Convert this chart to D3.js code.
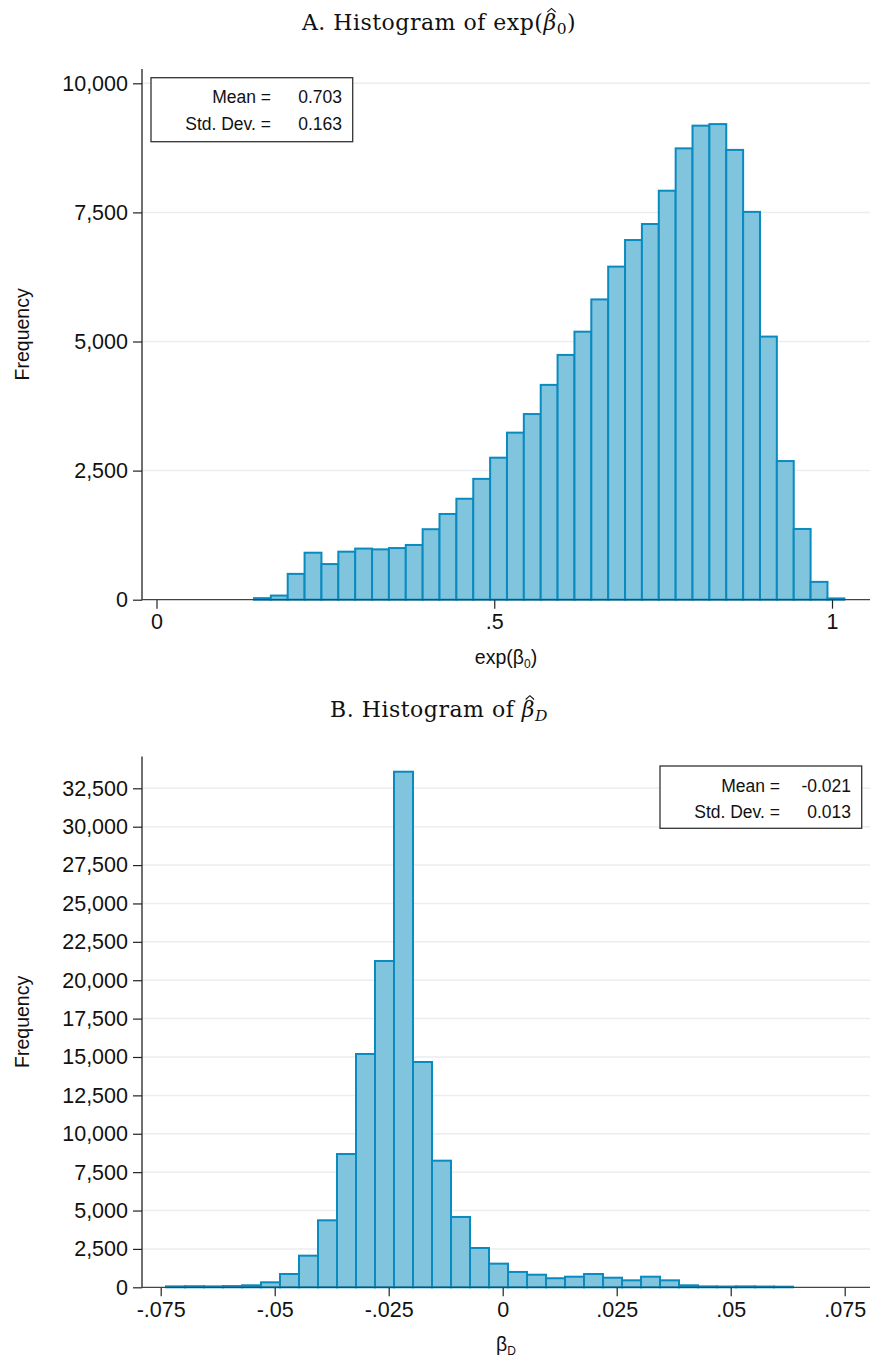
<!DOCTYPE html>
<html>
<head>
<meta charset="utf-8">
<script src="https://cdn.jsdelivr.net/npm/d3@7"></script>
<style>
  html, body { margin: 0; padding: 0; background: #ffffff; }
  svg { display: block; }
</style>
</head>
<body>
<svg id="chart" width="870" height="1361"></svg>
<script>
// ---- Panel A: histogram of exp(beta_0) ----
const binStartA = 0.1443;
const binWidthA = 0.02497;
const freqA = [30, 80, 500, 910, 690, 930, 990, 975, 1000, 1060,
               1365, 1660, 1955, 2340, 2750, 3235, 3595, 4160, 4740, 5190,
               5815, 6450, 6965, 7275, 7920, 8740, 9180, 9210, 8710, 7510,
               5095, 2685, 1370, 345, 25];
const xTicksA = [0, 0.5, 1];
const yTicksA = [0, 2500, 5000, 7500, 10000];
const statLabelsA = ["Mean =", "Std. Dev. ="];
const statValuesA = ["0.703", "0.163"];

// ---- Panel B: histogram of beta_D ----
const binStartB = -0.07384;
const binWidthB = 0.004167;
const freqB = [60, 70, 60, 80, 130, 325, 866, 2060, 4363, 8680,
               15196, 21252, 33580, 14674, 8247, 4580, 2560, 1540, 1000, 820,
               590, 690, 865, 625, 455, 690, 455, 130, 60, 50,
               60, 50, 40];
const xTicksB = [-0.075, -0.05, -0.025, 0, 0.025, 0.05, 0.075];
const yTicksB = [0, 2500, 5000, 7500, 10000, 12500, 15000, 17500, 20000,
                 22500, 25000, 27500, 30000, 32500];
const statLabelsB = ["Mean =", "Std. Dev. ="];
const statValuesB = ["-0.021", "0.013"];

const SANS = "'Liberation Sans', Arial, Helvetica, sans-serif";
const SERIF = "'DejaVu Serif', 'Liberation Serif', serif";
const FILL = "#80c4de";
const EDGE = "#0a8bbf";
const GRID = "#e8eef2";
const AXIS = "#222222";

const svg = d3.select("#chart");

// Stata-style decimal labels: ".5", "-.025", "0"
function stataNum(v) {
  if (v === 0) return "0";
  let s = String(+v.toFixed(4));
  return s.replace(/^(-?)0\./, "$1.");
}

function drawPanel(p) {
  const g = svg.append("g");
  const plotLeft = 142, plotRight = 870;

  // horizontal gridlines
  g.append("g").selectAll("line")
    .data(p.yTicks.filter(d => d > 0))
    .join("line")
    .attr("x1", plotLeft).attr("x2", plotRight)
    .attr("y1", d => p.y(d)).attr("y2", d => p.y(d))
    .attr("stroke", GRID).attr("stroke-width", 1.5);

  // histogram bars
  const bins = p.freq.map((f, i) => ({
    x0: p.binStart + i * p.binWidth,
    x1: p.binStart + (i + 1) * p.binWidth,
    f: f
  }));
  g.append("g").selectAll("rect")
    .data(bins)
    .join("rect")
    .attr("x", d => p.x(d.x0))
    .attr("width", d => p.x(d.x1) - p.x(d.x0))
    .attr("y", d => p.y(d.f))
    .attr("height", d => p.y(0) - p.y(d.f))
    .attr("fill", FILL)
    .attr("stroke", EDGE)
    .attr("stroke-width", 2);

  // y axis
  const ya = g.append("g")
    .attr("transform", `translate(${plotLeft},0)`)
    .call(d3.axisLeft(p.y).tickValues(p.yTicks).tickSize(9).tickPadding(5)
      .tickFormat(d3.format(",")));
  ya.select(".domain").remove();
  ya.selectAll(".tick line").attr("stroke", AXIS).attr("stroke-width", 1.2);
  ya.selectAll(".tick text").attr("font-family", SANS).attr("font-size", 21.5)
    .attr("fill", "#111");
  g.append("line")
    .attr("x1", plotLeft).attr("x2", plotLeft)
    .attr("y1", p.plotTop).attr("y2", p.y(0) + 0.5)
    .attr("stroke", AXIS).attr("stroke-width", 1.3);

  // x axis
  const xa = g.append("g")
    .attr("transform", `translate(0,${p.y(0)})`)
    .call(d3.axisBottom(p.x).tickValues(p.xTicks).tickSize(9).tickPadding(5)
      .tickFormat(stataNum));
  xa.select(".domain").remove();
  xa.selectAll(".tick line").attr("stroke", AXIS).attr("stroke-width", 1.2);
  xa.selectAll(".tick text").attr("font-family", SANS).attr("font-size", 21.5)
    .attr("fill", "#111");
  g.append("line")
    .attr("x1", plotLeft).attr("x2", plotRight)
    .attr("y1", p.y(0)).attr("y2", p.y(0))
    .attr("stroke", "#444").attr("stroke-width", 1.3);

  // y axis title
  g.append("text")
    .attr("transform", `translate(28.5,${(p.plotTop + p.y(0)) / 2}) rotate(-90)`)
    .attr("text-anchor", "middle")
    .attr("font-family", SANS).attr("font-size", 19.5).attr("fill", "#111")
    .text("Frequency");

  // x axis title with subscript
  const xt = g.append("text")
    .attr("x", (plotLeft + plotRight) / 2)
    .attr("y", p.y(0) + 64)
    .attr("text-anchor", "middle")
    .attr("font-family", SANS).attr("font-size", 19.5).attr("fill", "#111");
  xt.append("tspan").text(p.xTitle[0]);
  xt.append("tspan").attr("font-size", 12).attr("dy", 4).text(p.xTitle[1]);
  if (p.xTitle[2]) xt.append("tspan").attr("dy", -4).text(p.xTitle[2]);

  // panel title: text, hatted italic beta, subscript, closing part
  const tt = g.append("text")
    .attr("x", 439).attr("y", p.titleY)
    .attr("text-anchor", "middle")
    .attr("font-family", SERIF).attr("font-size", 22).attr("letter-spacing", 0.5)
    .attr("fill", "#111");
  tt.append("tspan").text(p.title[0]);
  const beta = tt.append("tspan").attr("font-style", "italic").text("\u03B2");
  tt.append("tspan").attr("font-size", 15.5).attr("dy", 4)
    .attr("font-style", p.title[2] ? "italic" : "normal").text(p.title[1]);
  if (p.title[3]) tt.append("tspan").attr("dy", -4).text(p.title[3]);

  // hat accent over the beta
  const bb = beta.node().getBBox();
  const hx = bb.x + bb.width * 0.64;
  const hy = p.titleY - 21;
  g.append("path")
    .attr("d", `M${hx - 4.2},${hy + 3.2} L${hx},${hy - 0.6} L${hx + 4.2},${hy + 3.2}`)
    .attr("fill", "none").attr("stroke", "#111").attr("stroke-width", 1.1)
    .attr("stroke-linejoin", "miter");

  // summary statistics box
  const lg = g.append("g").attr("transform", `translate(${p.legend[0]},${p.legend[1]})`);
  lg.append("rect")
    .attr("x", 0).attr("y", 0).attr("width", 201.7).attr("height", p.legend[2])
    .attr("fill", "#fff").attr("stroke", "#333").attr("stroke-width", 1.3);
  p.statLabels.forEach((lab, i) => {
    lg.append("text").attr("x", 120).attr("y", 25.5 + i * 26.7)
      .attr("text-anchor", "end").attr("font-family", SANS).attr("font-size", 17.5)
      .attr("fill", "#111").text(lab);
    lg.append("text").attr("x", 191).attr("y", 25.5 + i * 26.7)
      .attr("text-anchor", "end").attr("font-family", SANS).attr("font-size", 17.5)
      .attr("fill", "#111").text(p.statValues[i]);
  });
}

drawPanel({
  freq: freqA, binStart: binStartA, binWidth: binWidthA,
  x: d3.scaleLinear().domain([0, 1]).range([156.5, 832]),
  y: d3.scaleLinear().domain([0, 10000]).range([599.7, 83.3]),
  xTicks: xTicksA, yTicks: yTicksA,
  plotTop: 69,
  xTitle: ["exp(\u03B2", "0", ")"],
  title: ["A. Histogram of exp(", "0", false, ")"],
  titleY: 30,
  legend: [151, 77.7, 64],
  statLabels: statLabelsA, statValues: statValuesA
});

drawPanel({
  freq: freqB, binStart: binStartB, binWidth: binWidthB,
  x: d3.scaleLinear().domain([-0.075, 0.075]).range([160.7, 844.7]),
  y: d3.scaleLinear().domain([0, 32500]).range([1287.3, 788.3]),
  xTicks: xTicksB, yTicks: yTicksB,
  plotTop: 756.5,
  xTitle: ["\u03B2", "D", null],
  title: ["B. Histogram of ", "D", true, null],
  titleY: 717.3,
  legend: [660, 766, 62.3],
  statLabels: statLabelsB, statValues: statValuesB
});
</script>
</body>
</html>
